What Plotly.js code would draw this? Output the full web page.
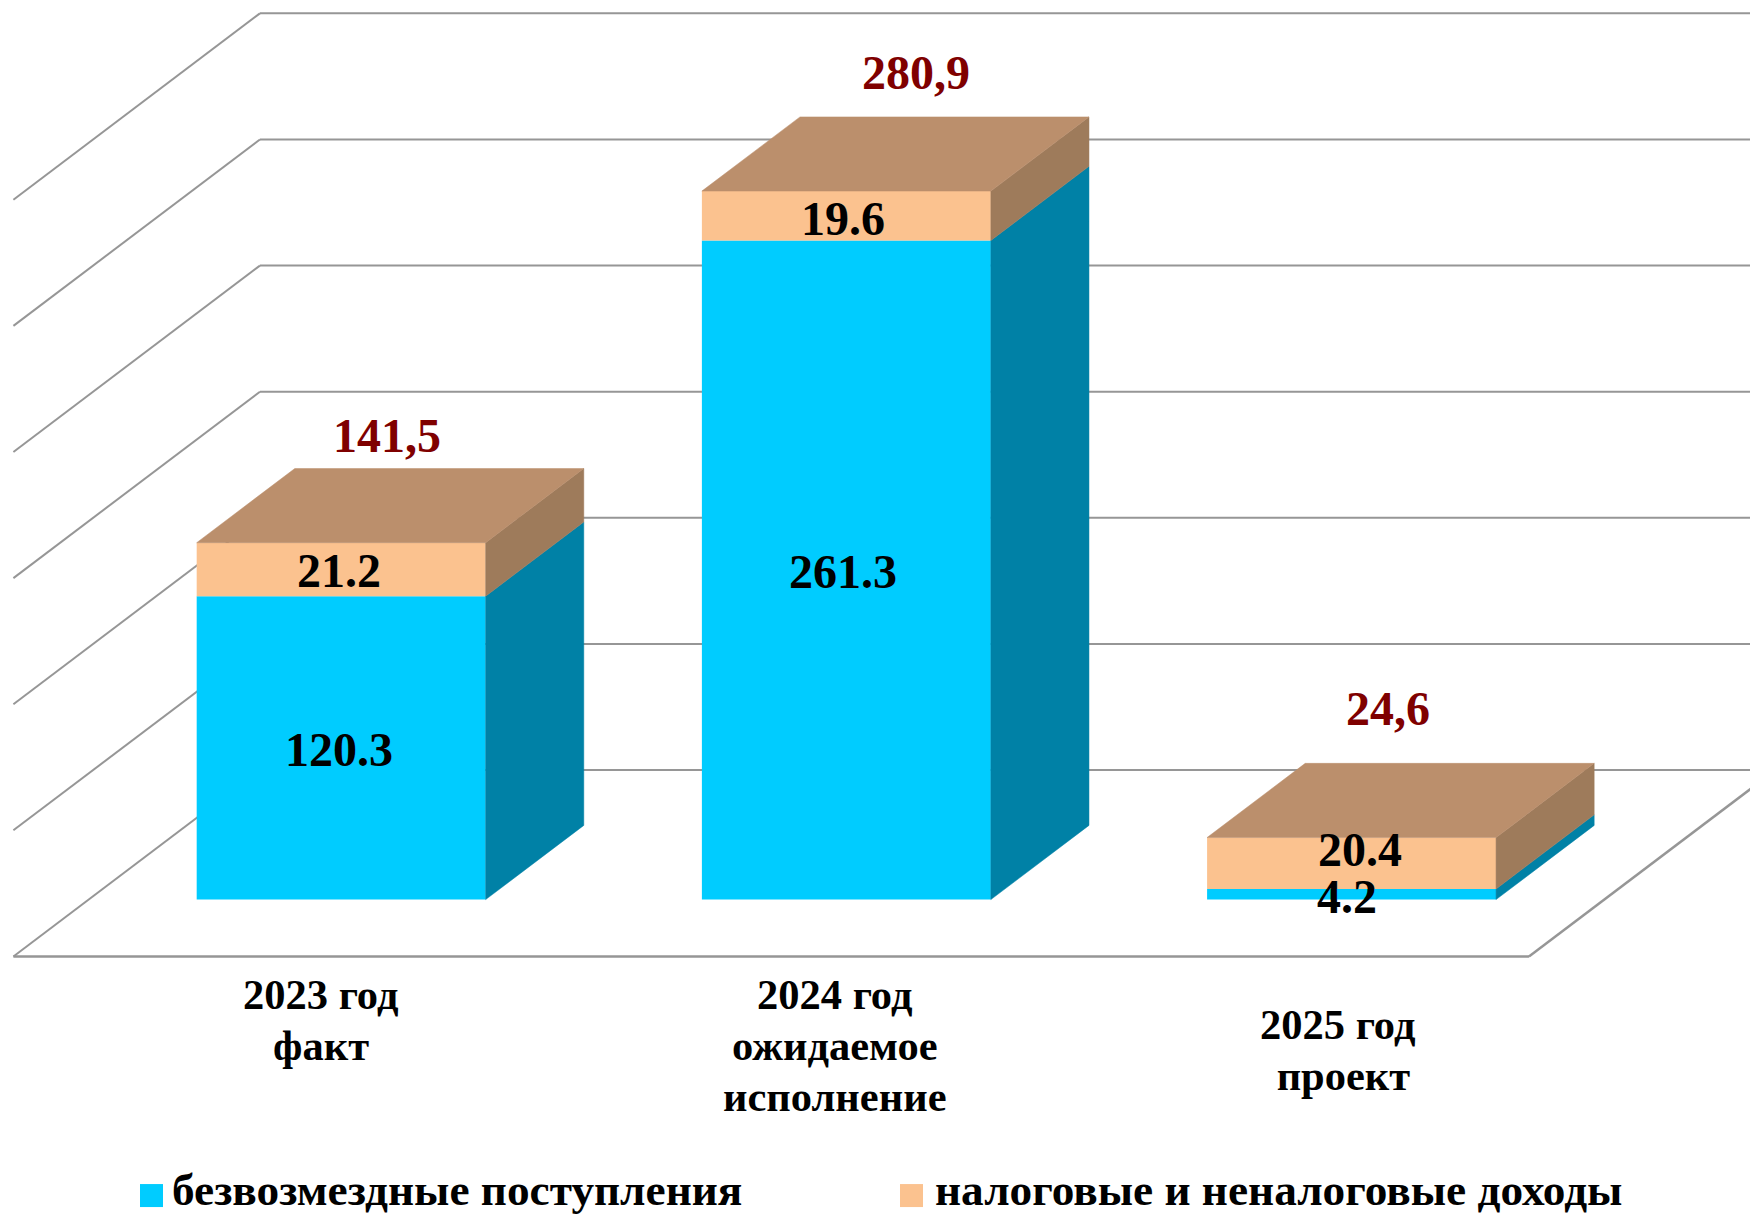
<!DOCTYPE html>
<html><head><meta charset="utf-8">
<script src="https://cdn.plot.ly/plotly-3.0.1.min.js"></script>
<style>html,body{margin:0;padding:0;background:#fff}#c{width:1750px;height:1219px}</style>
</head><body><div id="c"></div>
<script>
const categories = ["2023 год<br>факт", "2024 год<br>ожидаемое<br>исполнение", "2025 год<br>\u00A0проект"];
const grants = [120.3, 261.3, 4.2];
const ownIncome = [21.2, 19.6, 20.4];
const totalLabels = ["141,5", "280,9", "24,6"];
const gridValues = [0, 50, 100, 150, 200, 250, 300];
const seriesNames = ["безвозмездные поступления", "налоговые и неналоговые доходы"];

// oblique projection of the 3-D chart box: depth 0..1 maps onto both axes
const kx = 0.488, ky = 73.9, barWidth = 0.572, d0 = 0.305, d1 = 0.703;
const serif = '"Liberation Serif","Times New Roman",serif';
const P = (slot, v, d) => [slot + d * kx, v + d * ky];
const barX = i => i + 0.5 + d0 * kx;
const baseY = d0 * ky;

function faces(polys) { // polygons with null separators
  const x = [], y = [];
  polys.forEach((poly) => { poly.forEach(p => { x.push(p[0]); y.push(p[1]); }); x.push(null); y.push(null); });
  return {x, y};
}
const leftEdge = i => i + (1 - barWidth) / 2, rightEdge = i => leftEdge(i) + barWidth;
const sideFace = (i, a, b) => [P(rightEdge(i), a, d0), P(rightEdge(i), a, d1), P(rightEdge(i), b, d1), P(rightEdge(i), b, d0), P(rightEdge(i), a, d0)];
const topFace = (i, v) => [P(leftEdge(i), v, d0), P(leftEdge(i), v, d1), P(rightEdge(i), v, d1), P(rightEdge(i), v, d0), P(leftEdge(i), v, d0)];
const idx = categories.map((_, i) => i);
const totals = idx.map(i => grants[i] + ownIncome[i]);

function polyTrace(polys, color) {
  const f = faces(polys);
  return {type: 'scatter', mode: 'lines', x: f.x, y: f.y, fill: 'toself', fillcolor: color,
    line: {width: 0.5, color: color}, hoverinfo: 'skip', showlegend: false};
}
const traces = [
  {type: 'bar', name: seriesNames[0], x: idx.map(barX), y: grants, base: idx.map(() => baseY), width: barWidth,
   marker: {color: '#00CCFF', line: {width: 0}}, showlegend: false},
  {type: 'bar', name: seriesNames[1], x: idx.map(barX), y: ownIncome, base: grants.map(v => baseY + v), width: barWidth,
   marker: {color: '#FBC28F', line: {width: 0}}, showlegend: false},
  polyTrace(idx.map(i => sideFace(i, 0, grants[i])), '#0081A6'),
  polyTrace(idx.map(i => sideFace(i, grants[i], totals[i])), '#9E7B5B'),
  polyTrace(idx.map(i => topFace(i, totals[i])), '#BB8F6C')
];

const gridColor = '#969696';
const shapes = [];
gridValues.forEach(g => {
  const a = P(0, g, 0), b = P(0, g, 1), c = P(3, g, 1);
  const line = {color: gridColor, width: 2};
  shapes.push({type: 'line', xref: 'x', yref: 'y', x0: a[0], y0: a[1], x1: b[0], y1: b[1], line, layer: 'below'});
  shapes.push({type: 'line', xref: 'x', yref: 'y', x0: b[0], y0: b[1], x1: c[0], y1: c[1], line, layer: 'below'});
});
{
  const a = P(0, 0, 0), b = P(3, 0, 0), c = P(3, 0, 1);
  const line = {color: gridColor, width: 2.5};
  shapes.push({type: 'line', xref: 'x', yref: 'y', x0: a[0], y0: a[1], x1: b[0], y1: b[1], line, layer: 'below'});
  shapes.push({type: 'line', xref: 'x', yref: 'y', x0: b[0], y0: b[1], x1: c[0], y1: c[1], line, layer: 'below'});
}
const legendColors = ['#00CCFF', '#FBC28F'];
const legendSwatchX = [0.0800, 0.5143];
legendColors.forEach((col, i) => {
  shapes.push({type: 'rect', xref: 'paper', yref: 'paper', x0: legendSwatchX[i], x1: legendSwatchX[i] + 23 / 1750,
    y0: 0.0098, y1: 0.0098 + 23 / 1219, fillcolor: col, line: {width: 0}, layer: 'above'});
});

const annotations = [];
const lab = (x, y, text, size, color, xs, ys) => annotations.push({xref: 'x', yref: 'y', x, y, text, showarrow: false,
  xanchor: 'center', yanchor: 'middle', xshift: xs || 0, yshift: ys || 0,
  font: {family: serif, size, color}, align: 'center'});
const fmt = v => v.toFixed(1);
const grantShift = [[-2, -2], [-3, -1], [-5, -2]];
const ownShift = [[-2, -1], [-3, -3], [8, 14]];
idx.forEach(i => {
  lab(barX(i), baseY + grants[i] / 2, fmt(grants[i]), 48, '#000', grantShift[i][0], grantShift[i][1]);
  lab(barX(i), baseY + grants[i] + ownIncome[i] / 2, fmt(ownIncome[i]), 48, '#000', ownShift[i][0], ownShift[i][1]);
});
const totalShift = [[-2, 33], [22, 44], [-12, 55]];
idx.forEach(i => {
  lab(P(i + 0.5, 0, 0.5)[0], totals[i] + ky * d1, totalLabels[i], 48, '#7F0000', totalShift[i][0], totalShift[i][1]);
});
const catShift = [55, 64, 62];
const catFirstLine = [-38, -38, -68];
const catLineStep = 51;
idx.forEach(i => categories[i].split('<br>').forEach((line, k) => annotations.push({
  xref: 'x', yref: 'y', x: i + 0.5, y: 0, text: line, showarrow: false,
  xanchor: 'center', yanchor: 'middle', xshift: catShift[i], yshift: catFirstLine[i] - k * catLineStep, align: 'center',
  font: {family: serif, size: 42.5, color: '#000'}})));
const legendTextX = [0.0974, 0.5333];
seriesNames.forEach((s, i) => annotations.push({xref: 'paper', yref: 'paper', x: legendTextX[i], y: 0.0235, text: s,
  showarrow: false, xanchor: 'left', yanchor: 'middle', font: {family: serif, size: 45.3, color: '#000'}}));
annotations.forEach(a => { a.text = '<b>' + a.text + '</b>'; });

const layout = {
  width: 1750, height: 1219, margin: {l: 0, r: 0, t: 0, b: 0}, paper_bgcolor: '#fff', plot_bgcolor: '#fff',
  barmode: 'overlay', showlegend: false, hovermode: false,
  xaxis: {range: [-0.0265, 3.4375], visible: false, fixedrange: true},
  yaxis: {range: [-104.1, 379.2], visible: false, fixedrange: true},
  shapes, annotations
};
Plotly.newPlot('c', traces, layout, {displayModeBar: false, staticPlot: true});
</script></body></html>
